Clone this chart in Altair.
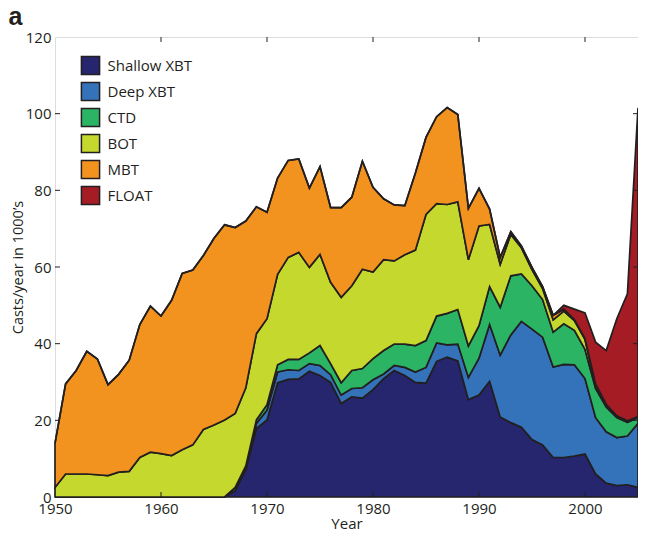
import altair as alt
import pandas as pd

years = list(range(1950, 2006))
types = ["Shallow XBT", "Deep XBT", "CTD", "BOT", "MBT", "FLOAT"]
colors = ["#26266E", "#3473BA", "#2BB463", "#C5D82E", "#F3931F", "#A51C24"]
panel_label = ["a"]

shallow = [0, 0, 0, 0, 0, 0, 0, 0, 0, 0, 0, 0, 0, 0, 0, 0, 0,
           1.7, 7.1, 17.9, 20.1, 29.8, 30.7, 30.8, 32.8, 31.7, 29.9,
           24.4, 26.1, 25.8, 28.0, 30.9, 33.0, 31.7, 29.9, 29.7, 35.4,
           36.5, 35.5, 25.4, 26.6, 30.2, 20.9, 19.4, 18.2, 15.0, 13.6,
           10.3, 10.3, 10.7, 11.2, 6.0, 3.6, 3.0, 3.2, 2.5]
deep = [0, 0, 0, 0, 0, 0, 0, 0, 0, 0, 0, 0, 0, 0, 0, 0, 0,
        0, 0.4, 1.3, 2.6, 2.8, 2.5, 2.2, 2.0, 2.6, 2.0,
        2.2, 2.2, 2.7, 2.6, 1.2, 1.3, 2.1, 2.7, 4.1, 4.8,
        3.2, 4.4, 5.8, 9.6, 14.8, 16.1, 22.9, 27.6, 28.8, 28.1,
        23.6, 24.3, 23.8, 19.7, 14.7, 13.4, 12.5, 12.7, 16.7]
ctd = [0, 0, 0, 0, 0, 0, 0, 0, 0, 0, 0, 0, 0, 0, 0, 0, 0,
       0.8, 0.6, 0.9, 1.4, 1.9, 2.7, 2.9, 2.8, 5.2, 2.9,
       3.2, 4.7, 5.0, 5.5, 6.1, 5.6, 6.1, 6.9, 7.0, 7.0,
       8.2, 9.0, 8.2, 8.5, 9.9, 12.5, 15.4, 12.4, 11.3, 9.8,
       9.1, 10.6, 9.0, 7.6, 7.6, 6.5, 5.2, 3.6, 1.5]
bot = [2.5, 6.0, 6.0, 6.0, 5.8, 5.6, 6.5, 6.7, 10.3, 11.7,
       11.3, 10.8, 12.3, 13.6, 17.6, 18.8, 20.1, 19.3, 20.4, 22.5,
       22.4, 23.6, 26.6, 27.9, 22.3, 23.8, 21.2, 22.3, 22.1, 25.9,
       22.6, 23.7, 21.7, 23.3, 24.9, 32.9, 29.3, 28.4, 28.1, 22.5,
       26.0, 16.2, 11.2, 10.8, 6.8, 4.2, 2.9, 3.2, 3.3, 2.5,
       2.6, 1.0, 0.5, 0.3, 0.2, 0.2]
mbt = [11.5, 23.5, 27.0, 32.0, 30.2, 23.7, 25.5, 29.0, 34.7, 38.1,
       35.9, 40.5, 46.0, 45.6, 45.4, 48.7, 50.9, 48.5, 43.5, 33.1,
       27.8, 25.1, 25.3, 24.4, 20.7, 22.9, 19.5, 23.4, 23.1, 28.2,
       22.1, 15.9, 14.6, 12.8, 20.1, 20.1, 22.7, 25.3, 22.8, 13.4,
       9.8, 4.0, 1.8, 0.7, 0.5, 0.6, 0.5, 1.2, 0.5, 0.3,
       0.2, 0.2, 0.2, 0.2, 0.2, 0.1]
float_ = [0, 0, 0, 0, 0, 0, 0, 0, 0, 0, 0, 0, 0, 0, 0, 0, 0, 0, 0, 0,
          0, 0, 0, 0, 0, 0, 0, 0, 0, 0, 0, 0, 0, 0, 0, 0, 0, 0, 0, 0,
          0, 0, 0, 0, 0, 0, 0, 0, 1.0, 2.7, 6.7, 10.9, 14.0, 25.3, 33.1, 80.5]

x_ticks = [1950, 1960, 1970, 1980, 1990, 2000]
y_ticks = [0, 20, 40, 60, 80, 100, 120]
x_inner = [1960, 1970, 1980, 1990, 2000]
y_inner = [20, 40, 60, 80, 100]

series = [shallow, deep, ctd, bot, mbt, float_]
rows = []
for rank, (name, vals) in enumerate(zip(types, series)):
    for yr, v in zip(years, vals):
        rows.append({"year": yr, "value": v, "type": name, "rank": rank})
df = pd.DataFrame(rows)

W, H = 583, 460
FONT = "Open Sans"
INK = "#231f20"

xscale = alt.Scale(domain=[1950, 2005], nice=False, zero=False)
yscale = alt.Scale(domain=[0, 120], nice=False)

xaxis = alt.Axis(values=x_ticks, format="d", title="Year", ticks=False,
                 domain=False, grid=False, labelPadding=4, titlePadding=0,
                 labelFlush=False,
                 labelFontSize=15, titleFontSize=15, titleFontWeight="normal",
                 labelFont=FONT, titleFont=FONT, labelColor=INK, titleColor=INK)
yaxis = alt.Axis(values=y_ticks, title="Casts/year in 1000\u2019s", ticks=False,
                 domain=False, grid=False, labelPadding=4, titlePadding=0,
                 labelFontSize=15, titleFontSize=14.5, titleFontWeight="normal",
                 labelFont=FONT, titleFont=FONT, labelColor=INK, titleColor=INK)

areas = alt.Chart(df).mark_area(
    stroke=INK, strokeWidth=1.7, strokeJoin="miter", fillOpacity=1
).encode(
    x=alt.X("year:Q", scale=xscale, axis=xaxis),
    y=alt.Y("value:Q", stack="zero", scale=yscale, axis=yaxis),
    color=alt.Color("type:N", scale=alt.Scale(domain=types, range=colors),
                    legend=alt.Legend(title=None, orient="none", legendX=25.5, legendY=18.5,
                                      symbolType="square", symbolSize=330,
                                      symbolStrokeColor=INK, symbolStrokeWidth=1.5,
                                      symbolOpacity=1,
                                      labelFontSize=15, labelFont=FONT, labelColor=INK,
                                      labelOffset=7, rowPadding=0, padding=0)),
    order=alt.Order("rank:Q"),
)

ydf = pd.DataFrame({"value": y_inner})
xdf = pd.DataFrame({"year": x_inner})

left_t = alt.Chart(ydf).mark_rule(color=INK, strokeWidth=1).encode(
    y=alt.Y("value:Q", scale=yscale, axis=yaxis), x=alt.value(0), x2=alt.value(5))
right_t = alt.Chart(ydf).mark_rule(color=INK, strokeWidth=1).encode(
    y=alt.Y("value:Q", scale=yscale, axis=yaxis), x=alt.value(W), x2=alt.value(W - 5))
bottom_t = alt.Chart(xdf).mark_rule(color=INK, strokeWidth=1).encode(
    x=alt.X("year:Q", scale=xscale, axis=xaxis), y=alt.value(H), y2=alt.value(H - 5))
top_t = alt.Chart(xdf).mark_rule(color=INK, strokeWidth=1).encode(
    x=alt.X("year:Q", scale=xscale, axis=xaxis), y=alt.value(0), y2=alt.value(5))

panel = alt.Chart(pd.DataFrame({"label": panel_label})).mark_text(
    align="left", baseline="alphabetic", fontSize=25, fontWeight="bold",
    font="Liberation Sans", color=INK
).encode(text="label:N", x=alt.value(-46.5), y=alt.value(-12))

chart = alt.layer(areas, left_t, right_t, bottom_t, top_t, panel).properties(
    width=W, height=H,
    autosize=alt.AutoSizeParams(type="none"),
    padding={"left": 47, "top": 29, "right": 0, "bottom": 34},
).configure_view(stroke=INK, strokeWidth=1.5).configure(background="white")

chart.save("out.html", embed_options={"renderer": "svg", "actions": False})
